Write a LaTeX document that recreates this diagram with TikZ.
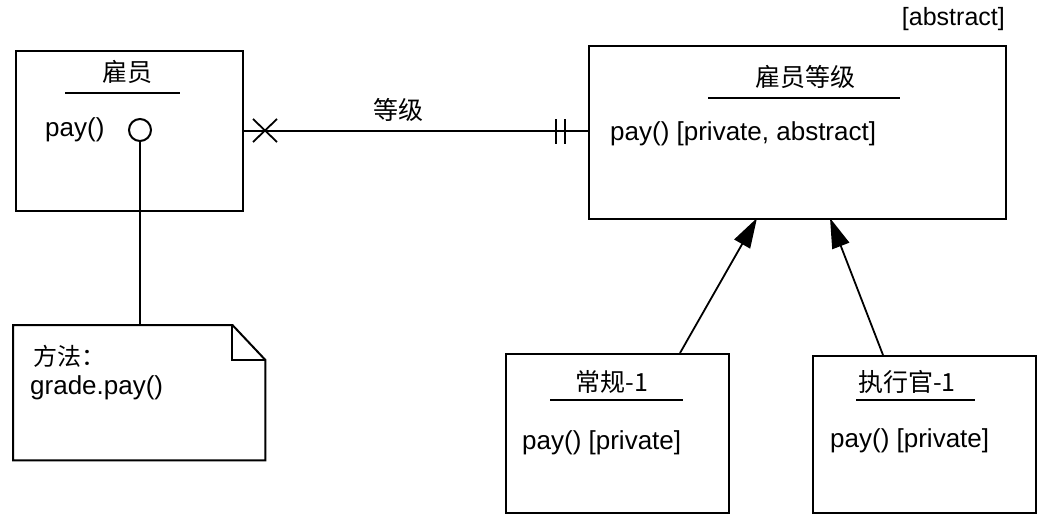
\documentclass[tikz,border=0pt]{standalone}
\usepackage{fontspec}
\setmainfont{Liberation Sans}
\newfontfamily\cjk{Noto Sans CJK SC}
\usetikzlibrary{arrows.meta,calc}
\begin{document}
\begin{tikzpicture}[x=1pt,y=-1pt,
  box/.style={draw,line width=2pt,inner sep=0pt,anchor=north west},
  ttl/.style={font=\cjk\fontsize{25}{27}\selectfont},
  txt/.style={font=\fontsize{26}{28}\selectfont,anchor=west,inner sep=0pt},
  uline/.style={line width=2.2pt},
  conn/.style={line width=1.8pt},
  gen/.style={line width=1.8pt,-{Triangle[length=30pt,width=18pt]}}
]
\useasboundingbox (0,0) rectangle (1044,522);
% boxes
\node[box,minimum width=227pt,minimum height=160pt] (e) at (15,50) {};
\node[box,minimum width=417pt,minimum height=173pt] (g) at (588,45) {};
\node[box,minimum width=223pt,minimum height=159pt] (r) at (505,353) {};
\node[box,minimum width=223pt,minimum height=157pt] (x) at (812,355) {};
% note
\node[inner sep=0pt,minimum width=252pt,minimum height=135pt,anchor=north west] (n) at (13,325) {};
\draw[line width=2pt] (n.north west) -- ($(n.north east)+(-33,0)$) coordinate (d1)
  -- ($(n.north east)+(0,35)$) coordinate (d2) -- (n.south east) -- (n.south west) -- cycle;
\draw[line width=2pt] (d1) -- (d1|-d2) -- (d2);
% titles
\node[ttl] (et) at (127,72) {雇员};
\draw[uline] (65,93) -- (180,93);
\node[ttl] (gt) at (805,77) {雇员等级};
\draw[uline] (708,98) -- (900,98);
\node[ttl] (rt) at (612,382) {常规-1};
\draw[uline] (550,400) -- (683,400);
\node[ttl] (xt) at (907,382) {执行官-1};
\draw[uline] (856,400) -- (975,400);
\node[font=\fontsize{25}{27}\selectfont,inner sep=0pt,anchor=east] (abs) at (1005,19) {[abstract]};
% texts
\node[txt] (ep) at (45,130) {pay()};
\node[txt] (gp) at (610,134) {pay() [private, abstract]};
\node[txt] (rp) at (522,443) {pay() [private]};
\node[txt] (xp) at (830,441) {pay() [private]};
\node[font=\cjk\fontsize{24}{26}\selectfont,anchor=west,inner sep=0pt] (nt) at (33,356) {方法：};
\node[txt] (ng) at (30,388) {grade.pay()};
% interface circle
\node[draw,circle,line width=2pt,minimum size=22pt,inner sep=0pt] (c) at (140,130) {};
\draw[conn] (c.south) -- (c.south|-n.north);
% association
\coordinate (a1) at (e.east);
\coordinate (a2) at (e.east-|g.west);
\draw[conn] (a1) -- (a2);
\node[font=\cjk\fontsize{25}{27}\selectfont] (al) at (398,110) {等级};
\draw[conn] ($(a1)+(9,-12)$) -- ($(a1)+(33,11)$);
\draw[conn] ($(a1)+(9,11)$) -- ($(a1)+(33,-12)$);
\draw[conn] ($(a2)+(-32,-12)$) -- ($(a2)+(-32,13)$);
\draw[conn] ($(a2)+(-23,-12)$) -- ($(a2)+(-23,13)$);
% generalisations
\coordinate (r1) at (680,353);
\coordinate (g1) at (757,218);
\coordinate (x1) at (883,355);
\coordinate (g2) at (830,218);
\draw[gen] (r1) -- (g1);
\draw[gen] (x1) -- (g2);
\end{tikzpicture}
\end{document}
